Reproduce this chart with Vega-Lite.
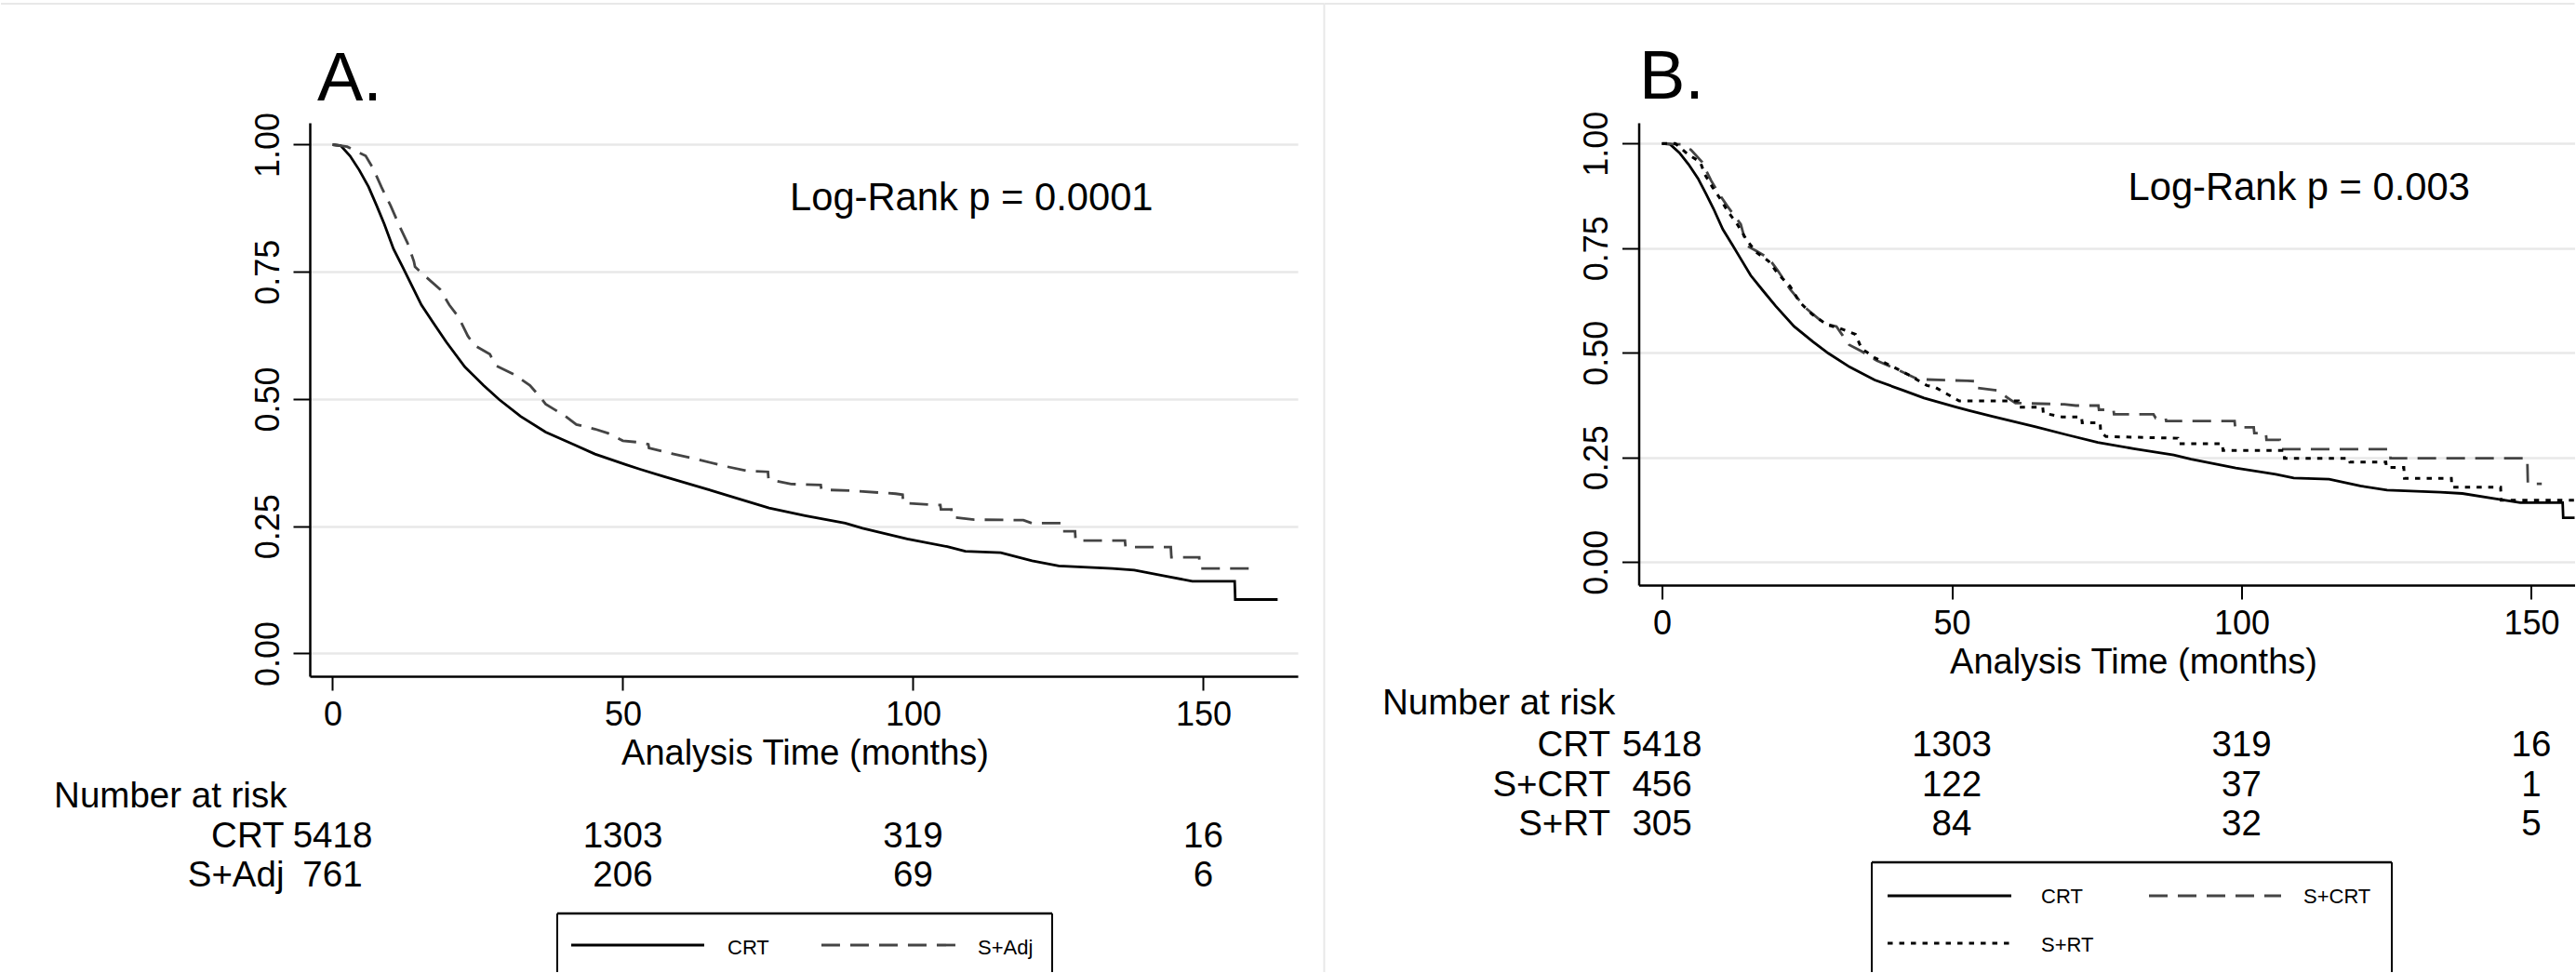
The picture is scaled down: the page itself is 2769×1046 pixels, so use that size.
{
"$schema": "https://vega.github.io/schema/vega-lite/v6.json",
"padding": {"left": 0, "top": 2, "right": 0, "bottom": 0},
"autosize": {"type": "pad"},
"background": "#ffffff",
"bounds": "flush",
"spacing": 366.5,
"datasets": {
"crt": [{"t":0,"s":1},{"t":1.4,"s":0.998},{"t":3,"s":0.978},{"t":4.6,"s":0.95},{"t":6.2,"s":0.917},{"t":7.6,"s":0.88},{"t":8.9,"s":0.844},{"t":10.5,"s":0.795},{"t":12.1,"s":0.759},{"t":13.7,"s":0.722},{"t":15.3,"s":0.685},{"t":17.4,"s":0.649},{"t":19.6,"s":0.612},{"t":22.8,"s":0.563},{"t":26,"s":0.527},{"t":28.7,"s":0.499},{"t":32.4,"s":0.466},{"t":36.7,"s":0.435},{"t":41.5,"s":0.411},{"t":45.2,"s":0.392},{"t":50.6,"s":0.371},{"t":53,"s":0.362},{"t":57,"s":0.348},{"t":64.5,"s":0.323},{"t":69.9,"s":0.304},{"t":75.2,"s":0.286},{"t":81.4,"s":0.271},{"t":88.3,"s":0.256},{"t":91.3,"s":0.246},{"t":99,"s":0.225},{"t":105.9,"s":0.21},{"t":109,"s":0.201},{"t":115.1,"s":0.198},{"t":120.5,"s":0.182},{"t":125.1,"s":0.172},{"t":134.3,"s":0.167},{"t":138.1,"s":0.164},{"t":143.5,"s":0.152},{"t":148.1,"s":0.142},{"t":155.4,"s":0.142},{"t":155.5,"s":0.106},{"t":162.8,"s":0.106}],
"sadj": [{"t":0,"s":1},{"t":2.5,"s":0.996},{"t":5.7,"s":0.978},{"t":7,"s":0.953},{"t":8.4,"s":0.917},{"t":10,"s":0.88},{"t":11.6,"s":0.838},{"t":12.9,"s":0.807},{"t":14,"s":0.771},{"t":14.2,"s":0.76},{"t":15.8,"s":0.743},{"t":18.5,"s":0.716},{"t":20.1,"s":0.685},{"t":21.7,"s":0.661},{"t":23.3,"s":0.624},{"t":24.4,"s":0.606},{"t":27.1,"s":0.588},{"t":28.1,"s":0.566},{"t":31.3,"s":0.548},{"t":34,"s":0.527},{"t":35.9,"s":0.502},{"t":36.7,"s":0.49},{"t":39.9,"s":0.468},{"t":42,"s":0.45},{"t":45.2,"s":0.441},{"t":47.4,"s":0.433},{"t":50,"s":0.418},{"t":52.7,"s":0.415},{"t":54.4,"s":0.411},{"t":54.5,"s":0.404},{"t":58.4,"s":0.393},{"t":63,"s":0.381},{"t":67.6,"s":0.368},{"t":71.4,"s":0.359},{"t":75,"s":0.357},{"t":75.1,"s":0.342},{"t":79,"s":0.333},{"t":84.1,"s":0.331},{"t":84.2,"s":0.322},{"t":89,"s":0.32},{"t":97,"s":0.314},{"t":98.2,"s":0.312},{"t":98.3,"s":0.296},{"t":103.6,"s":0.292},{"t":104.7,"s":0.292},{"t":104.8,"s":0.283},{"t":106.6,"s":0.283},{"t":106.7,"s":0.268},{"t":110.5,"s":0.263},{"t":119,"s":0.262},{"t":120.5,"s":0.256},{"t":125.4,"s":0.256},{"t":125.5,"s":0.24},{"t":127.9,"s":0.24},{"t":128,"s":0.222},{"t":136.5,"s":0.222},{"t":136.6,"s":0.209},{"t":144.4,"s":0.209},{"t":144.5,"s":0.189},{"t":149.3,"s":0.189},{"t":149.4,"s":0.167},{"t":158.8,"s":0.167}],
"scrt": [{"t":0,"s":1},{"t":3.4,"s":0.998},{"t":5,"s":0.985},{"t":6.9,"s":0.956},{"t":8.5,"s":0.911},{"t":9.8,"s":0.881},{"t":11.2,"s":0.852},{"t":13.6,"s":0.807},{"t":14.6,"s":0.756},{"t":16.2,"s":0.744},{"t":18.4,"s":0.726},{"t":20,"s":0.696},{"t":22.1,"s":0.652},{"t":24.8,"s":0.607},{"t":28,"s":0.57},{"t":30.1,"s":0.563},{"t":31.2,"s":0.541},{"t":32.3,"s":0.519},{"t":34.4,"s":0.504},{"t":37.1,"s":0.481},{"t":40.8,"s":0.459},{"t":44.1,"s":0.437},{"t":52.7,"s":0.433},{"t":54.4,"s":0.432},{"t":54.5,"s":0.416},{"t":57.8,"s":0.41},{"t":59.8,"s":0.391},{"t":61,"s":0.38},{"t":69.4,"s":0.377},{"t":71.4,"s":0.374},{"t":75.3,"s":0.374},{"t":75.4,"s":0.364},{"t":77.9,"s":0.364},{"t":78,"s":0.353},{"t":84.8,"s":0.353},{"t":85.2,"s":0.344},{"t":86.9,"s":0.344},{"t":87,"s":0.337},{"t":98.8,"s":0.337},{"t":98.9,"s":0.322},{"t":102.1,"s":0.322},{"t":102.2,"s":0.308},{"t":104.2,"s":0.308},{"t":104.3,"s":0.292},{"t":106.6,"s":0.292},{"t":106.7,"s":0.27},{"t":125.6,"s":0.27},{"t":125.7,"s":0.248},{"t":149.3,"s":0.248},{"t":149.4,"s":0.187},{"t":151.8,"s":0.187}],
"srt": [{"t":0,"s":1},{"t":2.3,"s":1},{"t":4.5,"s":0.974},{"t":6.6,"s":0.956},{"t":7.4,"s":0.926},{"t":8.7,"s":0.896},{"t":10.1,"s":0.867},{"t":11.4,"s":0.837},{"t":13,"s":0.807},{"t":14.6,"s":0.77},{"t":16.2,"s":0.741},{"t":18.4,"s":0.719},{"t":20,"s":0.689},{"t":22.1,"s":0.659},{"t":23.7,"s":0.622},{"t":25.9,"s":0.592},{"t":28.5,"s":0.567},{"t":31.2,"s":0.556},{"t":33.4,"s":0.544},{"t":34.4,"s":0.511},{"t":36.6,"s":0.489},{"t":39.8,"s":0.467},{"t":42.5,"s":0.448},{"t":45.7,"s":0.422},{"t":47.1,"s":0.418},{"t":49.9,"s":0.396},{"t":51.3,"s":0.385},{"t":61.5,"s":0.385},{"t":61.6,"s":0.37},{"t":65.7,"s":0.37},{"t":65.8,"s":0.356},{"t":69,"s":0.347},{"t":72.4,"s":0.347},{"t":72.5,"s":0.333},{"t":75.6,"s":0.333},{"t":75.7,"s":0.311},{"t":76.6,"s":0.3},{"t":89,"s":0.296},{"t":89.1,"s":0.283},{"t":96.7,"s":0.283},{"t":96.8,"s":0.267},{"t":107.3,"s":0.267},{"t":107.4,"s":0.248},{"t":118.6,"s":0.248},{"t":118.7,"s":0.239},{"t":124.9,"s":0.239},{"t":125,"s":0.226},{"t":128,"s":0.226},{"t":128.1,"s":0.2},{"t":136.2,"s":0.2},{"t":136.3,"s":0.179},{"t":144.7,"s":0.179},{"t":144.8,"s":0.148},{"t":160,"s":0.148}],
"riskA": [{"group":"CRT","t":0,"n":5418},{"group":"CRT","t":50,"n":1303},{"group":"CRT","t":100,"n":319},{"group":"CRT","t":150,"n":16},{"group":"S+Adj","t":0,"n":761},{"group":"S+Adj","t":50,"n":206},{"group":"S+Adj","t":100,"n":69},{"group":"S+Adj","t":150,"n":6}],
"riskB": [{"group":"CRT","t":0,"n":5418},{"group":"CRT","t":50,"n":1303},{"group":"CRT","t":100,"n":319},{"group":"CRT","t":150,"n":16},{"group":"S+CRT","t":0,"n":456},{"group":"S+CRT","t":50,"n":122},{"group":"S+CRT","t":100,"n":37},{"group":"S+CRT","t":150,"n":1},{"group":"S+RT","t":0,"n":305},{"group":"S+RT","t":50,"n":84},{"group":"S+RT","t":100,"n":32},{"group":"S+RT","t":150,"n":5}]
},
"hconcat": [
{
"width": 1062, "height": 595,
"layer": [
{"data": {"name": "crt"}, "mark": {"type": "line", "color": "#000000", "strokeWidth": 2.8},
 "encoding": {
  "x": {"field": "t", "type": "quantitative", "scale": {"domain": [-3.926, 166.27], "nice": false, "zero": false}, "axis": {"values": [0, 50, 100, 150], "title": "Analysis Time (months)", "titleX": 532, "titleY": 94, "titleAlign": "center"}},
  "y": {"field": "s", "type": "quantitative", "scale": {"domain": [-0.04479, 1.04296], "nice": false, "zero": false}, "axis": {"values": [0, 0.25, 0.5, 0.75, 1], "format": ".2f", "title": null}}}},
{"data": {"name": "sadj"}, "mark": {"type": "line", "color": "#444444", "strokeWidth": 2.8, "strokeDash": [20, 11]},
 "encoding": {"x": {"field": "t", "type": "quantitative", "scale": {"domain": [-3.926, 166.27], "nice": false, "zero": false}}, "y": {"field": "s", "type": "quantitative", "scale": {"domain": [-0.04479, 1.04296], "nice": false, "zero": false}}}},
{"data": {"values": [{}]}, "mark": {"type": "text", "text": "A.", "align": "left", "baseline": "alphabetic", "fontSize": 74},
 "encoding": {"x": {"datum": -2.644, "scale": {"domain": [-3.926, 166.27], "nice": false, "zero": false}}, "y": {"datum": 1.0868, "scale": {"domain": [-0.04479, 1.04296], "nice": false, "zero": false}}}},
{"data": {"values": [{}]}, "mark": {"type": "text", "text": "Log-Rank p = 0.0001", "align": "left", "baseline": "alphabetic", "fontSize": 41.7},
 "encoding": {"x": {"datum": 78.77, "scale": {"domain": [-3.926, 166.27], "nice": false, "zero": false}}, "y": {"datum": 0.8704, "scale": {"domain": [-0.04479, 1.04296], "nice": false, "zero": false}}}},
{"data": {"values": [{}]}, "mark": {"type": "text", "text": "Number at risk", "align": "left", "baseline": "alphabetic", "fontSize": 38.5},
 "encoding": {"x": {"datum": -47.98, "scale": {"domain": [-3.926, 166.27], "nice": false, "zero": false}}, "y": {"datum": -0.302, "scale": {"domain": [-0.04479, 1.04296], "nice": false, "zero": false}}}},
{"data": {"values": [{}]}, "mark": {"type": "text", "text": "CRT", "align": "right", "baseline": "alphabetic", "fontSize": 38.5},
 "encoding": {"x": {"datum": -8.33, "scale": {"domain": [-3.926, 166.27], "nice": false, "zero": false}}, "y": {"datum": -0.3812, "scale": {"domain": [-0.04479, 1.04296], "nice": false, "zero": false}}}},
{"data": {"values": [{}]}, "mark": {"type": "text", "text": "S+Adj", "align": "right", "baseline": "alphabetic", "fontSize": 38.5},
 "encoding": {"x": {"datum": -8.33, "scale": {"domain": [-3.926, 166.27], "nice": false, "zero": false}}, "y": {"datum": -0.4574, "scale": {"domain": [-0.04479, 1.04296], "nice": false, "zero": false}}}},
{"data": {"name": "riskA"}, "transform": [{"filter": "datum.group === 'CRT'"}], "mark": {"type": "text", "align": "center", "baseline": "alphabetic", "fontSize": 38.5},
 "encoding": {"x": {"field": "t", "type": "quantitative", "scale": {"domain": [-3.926, 166.27], "nice": false, "zero": false}}, "y": {"datum": -0.3812, "scale": {"domain": [-0.04479, 1.04296], "nice": false, "zero": false}}, "text": {"field": "n", "type": "quantitative", "format": "d"}}},
{"data": {"name": "riskA"}, "transform": [{"filter": "datum.group === 'S+Adj'"}], "mark": {"type": "text", "align": "center", "baseline": "alphabetic", "fontSize": 38.5},
 "encoding": {"x": {"field": "t", "type": "quantitative", "scale": {"domain": [-3.926, 166.27], "nice": false, "zero": false}}, "y": {"datum": -0.4574, "scale": {"domain": [-0.04479, 1.04296], "nice": false, "zero": false}}, "text": {"field": "n", "type": "quantitative", "format": "d"}}},
{"data": {"values": [{}]}, "mark": {"type": "rule", "color": "#000000", "strokeWidth": 2.5},
 "encoding": {"x": {"datum": 38.7, "scale": {"domain": [-3.926, 166.27], "nice": false, "zero": false}}, "x2": {"datum": 123.96}, "y": {"datum": -0.511, "scale": {"domain": [-0.04479, 1.04296], "nice": false, "zero": false}}}},
{"data": {"values": [{}]}, "mark": {"type": "rule", "color": "#000000", "strokeWidth": 2},
 "encoding": {"x": {"datum": 38.7, "scale": {"domain": [-3.926, 166.27], "nice": false, "zero": false}}, "y": {"datum": -0.511, "scale": {"domain": [-0.04479, 1.04296], "nice": false, "zero": false}}, "y2": {"datum": -0.6261}}},
{"data": {"values": [{}]}, "mark": {"type": "rule", "color": "#000000", "strokeWidth": 2},
 "encoding": {"x": {"datum": 123.96, "scale": {"domain": [-3.926, 166.27], "nice": false, "zero": false}}, "y": {"datum": -0.511, "scale": {"domain": [-0.04479, 1.04296], "nice": false, "zero": false}}, "y2": {"datum": -0.6261}}},
{"data": {"values": [{}]}, "mark": {"type": "rule", "color": "#000000", "strokeWidth": 2.8},
 "encoding": {"x": {"datum": 41.11, "scale": {"domain": [-3.926, 166.27], "nice": false, "zero": false}}, "x2": {"datum": 64.02}, "y": {"datum": -0.5731, "scale": {"domain": [-0.04479, 1.04296], "nice": false, "zero": false}}}},
{"data": {"values": [{}]}, "mark": {"type": "rule", "color": "#444444", "strokeWidth": 2.8, "strokeDash": [20, 11]},
 "encoding": {"x": {"datum": 84.21, "scale": {"domain": [-3.926, 166.27], "nice": false, "zero": false}}, "x2": {"datum": 107.45}, "y": {"datum": -0.5731, "scale": {"domain": [-0.04479, 1.04296], "nice": false, "zero": false}}}},
{"data": {"values": [{}]}, "mark": {"type": "text", "text": "CRT", "align": "left", "baseline": "alphabetic", "fontSize": 22},
 "encoding": {"x": {"datum": 68.03, "scale": {"domain": [-3.926, 166.27], "nice": false, "zero": false}}, "y": {"datum": -0.5914, "scale": {"domain": [-0.04479, 1.04296], "nice": false, "zero": false}}}},
{"data": {"values": [{}]}, "mark": {"type": "text", "text": "S+Adj", "align": "left", "baseline": "alphabetic", "fontSize": 22},
 "encoding": {"x": {"datum": 111.14, "scale": {"domain": [-3.926, 166.27], "nice": false, "zero": false}}, "y": {"datum": -0.5914, "scale": {"domain": [-0.04479, 1.04296], "nice": false, "zero": false}}}},
{"data": {"values": [{}]}, "mark": {"type": "rule", "color": "#e8e8e8", "strokeWidth": 2},
 "encoding": {"x": {"datum": -57.13, "scale": {"domain": [-3.926, 166.27], "nice": false, "zero": false}}, "x2": {"datum": 170.83}, "y": {"datum": 1.277, "scale": {"domain": [-0.04479, 1.04296], "nice": false, "zero": false}}}},
{"data": {"values": [{}]}, "mark": {"type": "rule", "color": "#e8e8e8", "strokeWidth": 2},
 "encoding": {"x": {"datum": 170.83, "scale": {"domain": [-3.926, 166.27], "nice": false, "zero": false}}, "y": {"datum": 1.277, "scale": {"domain": [-0.04479, 1.04296], "nice": false, "zero": false}}, "y2": {"datum": -0.6261}}}
]
},
{
"width": 1006, "height": 497,
"layer": [
{"data": {"name": "crt"}, "mark": {"type": "line", "color": "#000000", "strokeWidth": 2.8, "clip": true},
 "encoding": {
  "x": {"field": "t", "type": "quantitative", "scale": {"domain": [-4.013, 157.464], "nice": false, "zero": false}, "axis": {"values": [0, 50, 100, 150], "title": "Analysis Time (months)", "titleX": 531.5, "titleY": 94, "titleAlign": "center"}},
  "y": {"field": "s", "type": "quantitative", "scale": {"domain": [-0.05489, 1.04956], "nice": false, "zero": false}, "axis": {"values": [0, 0.25, 0.5, 0.75, 1], "format": ".2f", "title": null}}}},
{"data": {"name": "scrt"}, "mark": {"type": "line", "color": "#444444", "strokeWidth": 2.8, "strokeDash": [20, 11], "clip": true},
 "encoding": {"x": {"field": "t", "type": "quantitative", "scale": {"domain": [-4.013, 157.464], "nice": false, "zero": false}}, "y": {"field": "s", "type": "quantitative", "scale": {"domain": [-0.05489, 1.04956], "nice": false, "zero": false}}}},
{"data": {"name": "srt"}, "mark": {"type": "line", "color": "#000000", "strokeWidth": 3, "strokeDash": [5.5, 7], "clip": true},
 "encoding": {"x": {"field": "t", "type": "quantitative", "scale": {"domain": [-4.013, 157.464], "nice": false, "zero": false}}, "y": {"field": "s", "type": "quantitative", "scale": {"domain": [-0.05489, 1.04956], "nice": false, "zero": false}}}},
{"data": {"values": [{}]}, "mark": {"type": "text", "text": "B.", "align": "left", "baseline": "alphabetic", "fontSize": 74},
 "encoding": {"x": {"datum": -3.933, "scale": {"domain": [-4.013, 157.464], "nice": false, "zero": false}}, "y": {"datum": 1.1073, "scale": {"domain": [-0.05489, 1.04956], "nice": false, "zero": false}}}},
{"data": {"values": [{}]}, "mark": {"type": "text", "text": "Log-Rank p = 0.003", "align": "left", "baseline": "alphabetic", "fontSize": 41.7},
 "encoding": {"x": {"datum": 80.42, "scale": {"domain": [-4.013, 157.464], "nice": false, "zero": false}}, "y": {"datum": 0.8651, "scale": {"domain": [-0.05489, 1.04956], "nice": false, "zero": false}}}},
{"data": {"values": [{}]}, "mark": {"type": "text", "text": "Number at risk", "align": "left", "baseline": "alphabetic", "fontSize": 38.5},
 "encoding": {"x": {"datum": -48.23, "scale": {"domain": [-4.013, 157.464], "nice": false, "zero": false}}, "y": {"datum": -0.3631, "scale": {"domain": [-0.05489, 1.04956], "nice": false, "zero": false}}}},
{"data": {"values": [{}]}, "mark": {"type": "text", "text": "CRT", "align": "right", "baseline": "alphabetic", "fontSize": 38.5},
 "encoding": {"x": {"datum": -8.91, "scale": {"domain": [-4.013, 157.464], "nice": false, "zero": false}}, "y": {"datum": -0.4631, "scale": {"domain": [-0.05489, 1.04956], "nice": false, "zero": false}}}},
{"data": {"values": [{}]}, "mark": {"type": "text", "text": "S+CRT", "align": "right", "baseline": "alphabetic", "fontSize": 38.5},
 "encoding": {"x": {"datum": -8.91, "scale": {"domain": [-4.013, 157.464], "nice": false, "zero": false}}, "y": {"datum": -0.5593, "scale": {"domain": [-0.05489, 1.04956], "nice": false, "zero": false}}}},
{"data": {"values": [{}]}, "mark": {"type": "text", "text": "S+RT", "align": "right", "baseline": "alphabetic", "fontSize": 38.5},
 "encoding": {"x": {"datum": -8.91, "scale": {"domain": [-4.013, 157.464], "nice": false, "zero": false}}, "y": {"datum": -0.652, "scale": {"domain": [-0.05489, 1.04956], "nice": false, "zero": false}}}},
{"data": {"name": "riskB"}, "transform": [{"filter": "datum.group === 'CRT'"}], "mark": {"type": "text", "align": "center", "baseline": "alphabetic", "fontSize": 38.5},
 "encoding": {"x": {"field": "t", "type": "quantitative", "scale": {"domain": [-4.013, 157.464], "nice": false, "zero": false}}, "y": {"datum": -0.4631, "scale": {"domain": [-0.05489, 1.04956], "nice": false, "zero": false}}, "text": {"field": "n", "type": "quantitative", "format": "d"}}},
{"data": {"name": "riskB"}, "transform": [{"filter": "datum.group === 'S+CRT'"}], "mark": {"type": "text", "align": "center", "baseline": "alphabetic", "fontSize": 38.5},
 "encoding": {"x": {"field": "t", "type": "quantitative", "scale": {"domain": [-4.013, 157.464], "nice": false, "zero": false}}, "y": {"datum": -0.5593, "scale": {"domain": [-0.05489, 1.04956], "nice": false, "zero": false}}, "text": {"field": "n", "type": "quantitative", "format": "d"}}},
{"data": {"name": "riskB"}, "transform": [{"filter": "datum.group === 'S+RT'"}], "mark": {"type": "text", "align": "center", "baseline": "alphabetic", "fontSize": 38.5},
 "encoding": {"x": {"field": "t", "type": "quantitative", "scale": {"domain": [-4.013, 157.464], "nice": false, "zero": false}}, "y": {"datum": -0.652, "scale": {"domain": [-0.05489, 1.04956], "nice": false, "zero": false}}, "text": {"field": "n", "type": "quantitative", "format": "d"}}},
{"data": {"values": [{}]}, "mark": {"type": "rule", "color": "#000000", "strokeWidth": 2.5},
 "encoding": {"x": {"datum": 36.2, "scale": {"domain": [-4.013, 157.464], "nice": false, "zero": false}}, "x2": {"datum": 125.92}, "y": {"datum": -0.7171, "scale": {"domain": [-0.05489, 1.04956], "nice": false, "zero": false}}}},
{"data": {"values": [{}]}, "mark": {"type": "rule", "color": "#000000", "strokeWidth": 2},
 "encoding": {"x": {"datum": 36.2, "scale": {"domain": [-4.013, 157.464], "nice": false, "zero": false}}, "y": {"datum": -0.7171, "scale": {"domain": [-0.05489, 1.04956], "nice": false, "zero": false}}, "y2": {"datum": -0.9793}}},
{"data": {"values": [{}]}, "mark": {"type": "rule", "color": "#000000", "strokeWidth": 2},
 "encoding": {"x": {"datum": 125.92, "scale": {"domain": [-4.013, 157.464], "nice": false, "zero": false}}, "y": {"datum": -0.7171, "scale": {"domain": [-0.05489, 1.04956], "nice": false, "zero": false}}, "y2": {"datum": -0.9793}}},
{"data": {"values": [{}]}, "mark": {"type": "rule", "color": "#000000", "strokeWidth": 2.8},
 "encoding": {"x": {"datum": 38.93, "scale": {"domain": [-4.013, 157.464], "nice": false, "zero": false}}, "x2": {"datum": 60.27}, "y": {"datum": -0.7971, "scale": {"domain": [-0.05489, 1.04956], "nice": false, "zero": false}}}},
{"data": {"values": [{}]}, "mark": {"type": "rule", "color": "#444444", "strokeWidth": 2.8, "strokeDash": [20, 11]},
 "encoding": {"x": {"datum": 84.03, "scale": {"domain": [-4.013, 157.464], "nice": false, "zero": false}}, "x2": {"datum": 106.82}, "y": {"datum": -0.7971, "scale": {"domain": [-0.05489, 1.04956], "nice": false, "zero": false}}}},
{"data": {"values": [{}]}, "mark": {"type": "rule", "color": "#000000", "strokeWidth": 3, "strokeDash": [5.5, 7]},
 "encoding": {"x": {"datum": 38.93, "scale": {"domain": [-4.013, 157.464], "nice": false, "zero": false}}, "x2": {"datum": 60.27}, "y": {"datum": -0.9104, "scale": {"domain": [-0.05489, 1.04956], "nice": false, "zero": false}}}},
{"data": {"values": [{}]}, "mark": {"type": "text", "text": "CRT", "align": "left", "baseline": "alphabetic", "fontSize": 22},
 "encoding": {"x": {"datum": 65.41, "scale": {"domain": [-4.013, 157.464], "nice": false, "zero": false}}, "y": {"datum": -0.8149, "scale": {"domain": [-0.05489, 1.04956], "nice": false, "zero": false}}}},
{"data": {"values": [{}]}, "mark": {"type": "text", "text": "S+CRT", "align": "left", "baseline": "alphabetic", "fontSize": 22},
 "encoding": {"x": {"datum": 110.67, "scale": {"domain": [-4.013, 157.464], "nice": false, "zero": false}}, "y": {"datum": -0.8149, "scale": {"domain": [-0.05489, 1.04956], "nice": false, "zero": false}}}},
{"data": {"values": [{}]}, "mark": {"type": "text", "text": "S+RT", "align": "left", "baseline": "alphabetic", "fontSize": 22},
 "encoding": {"x": {"datum": 65.41, "scale": {"domain": [-4.013, 157.464], "nice": false, "zero": false}}, "y": {"datum": -0.9298, "scale": {"domain": [-0.05489, 1.04956], "nice": false, "zero": false}}}},
{"data": {"values": [{}]}, "mark": {"type": "rule", "color": "#e8e8e8", "strokeWidth": 2},
 "encoding": {"x": {"datum": -58.27, "scale": {"domain": [-4.013, 157.464], "nice": false, "zero": false}}, "x2": {"datum": 157.464}, "y": {"datum": 1.334, "scale": {"domain": [-0.05489, 1.04956], "nice": false, "zero": false}}}}
]
}
],
"config": {
 "view": {"stroke": null},
 "font": "Liberation Sans",
 "text": {"font": "Liberation Sans", "color": "#000000"},
 "axis": {"domainColor": "#000000", "domainWidth": 2.5, "tickColor": "#000000", "tickWidth": 2, "labelColor": "#000000", "labelFont": "Liberation Sans", "titleFont": "Liberation Sans", "titleColor": "#000000", "titleFontWeight": "normal", "labelOverlap": false, "labelFlush": false, "gridColor": "#e8e8e8", "gridWidth": 2.5},
 "axisX": {"grid": false, "tickSize": 15, "labelPadding": 37, "labelFontSize": 36, "labelBaseline": "alphabetic", "labelAngle": 0, "titleFontSize": 38, "titleBaseline": "alphabetic"},
 "axisY": {"grid": true, "tickSize": 18, "labelPadding": 16, "labelFontSize": 36, "labelAngle": 270, "labelAlign": "center", "labelBaseline": "alphabetic"}
}
}
